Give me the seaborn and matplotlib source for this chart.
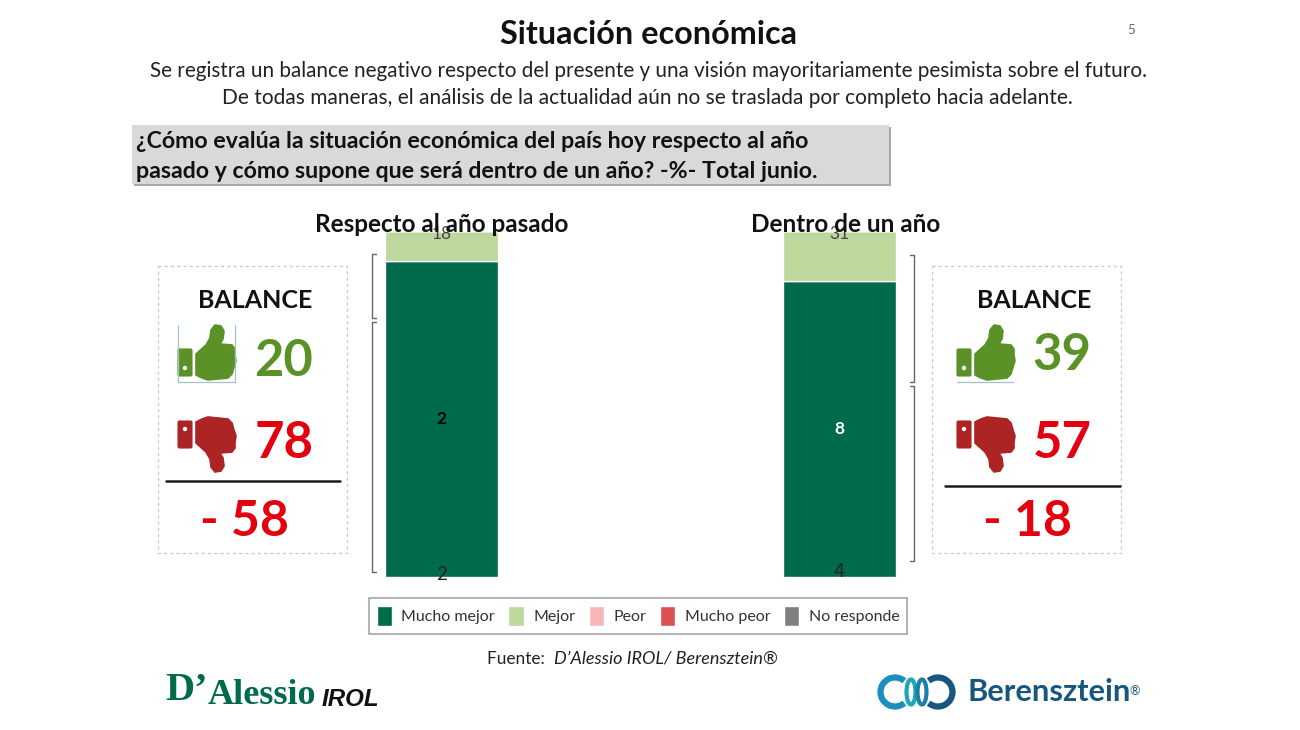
import matplotlib
matplotlib.use("Agg")
import matplotlib.pyplot as plt
import numpy as np
import seaborn as sns
from matplotlib.patches import Arc, Circle, Ellipse, Polygon, Rectangle

# datos
periods = ["Respecto al año pasado", "Dentro de un año"]
series_names = ["Mucho mejor", "Mejor", "Peor", "Mucho peor", "No responde"]
mucho_mejor = [91.3, 85.5]
mejor = [8.7, 14.5]
peor = [0, 0]
mucho_peor = [0, 0]
no_responde = [0, 0]
series_colors = ["#006B4A", "#BDD79D", "#F4B6B6", "#E04F4F", "#7F7F7F"]

# las etiquetas del original no coinciden con el alto visible de las barras
labels_dark = ["2", "8"]
labels_light = ["18", "31"]
labels_base = ["2", "4"]
balance_pos = [20, 39]
balance_neg = [78, 57]
balance_net = ["- 58", "- 18"]

GREEN = "#5B9228"
RED = "#E3000F"
DARK_RED = "#AD2424"

sns.set_theme(style="white")
plt.rcParams["font.family"] = ["Lato", "DejaVu Sans"]

fig = plt.figure(figsize=(13, 7.3), dpi=100, facecolor="white")

# barras: el eje cubre 242-1038 px en x y 231-577 px en y
ax = fig.add_axes([242.5 / 1300, (730 - 577) / 730, 796 / 1300, 346 / 730])
bottom = np.zeros(2)
containers = []
all_series = [mucho_mejor, mejor, peor, mucho_peor, no_responde]
for name, vals, col in zip(series_names, all_series, series_colors):
    sns.barplot(x=periods, y=vals, bottom=bottom, color=col, label=name,
                width=0.284, saturation=1, ax=ax, legend=False)
    containers.append(ax.containers[-1])
    bottom = bottom + np.array(vals)
ax.set_xlim(-0.5, 1.5)
ax.set_ylim(0, 100)
ax.axis("off")

txt = ax.bar_label(containers[0], labels=labels_dark, label_type="center",
                   fontsize=12.5, fontweight="bold")
txt[0].set_color("black")
txt[1].set_color("white")
for i in range(2):
    ax.text(i, 99.2, labels_light[i], ha="center", va="center", fontsize=12.5, color="#444444")
ax.text(0, 0.6, labels_base[0], ha="center", va="center", fontsize=13.5, color="#222222")
ax.text(1, 1.7, labels_base[1], ha="center", va="center", fontsize=13.5, color="#222222")

handles, names = ax.get_legend_handles_labels()
leg = fig.legend(handles, names, ncols=5, loc="center", bbox_to_anchor=(638 / 1300, 1 - 616 / 730),
                 fontsize=11.5, frameon=True, fancybox=False, edgecolor="#A6A6A6", framealpha=1,
                 handlelength=0.95, handleheight=1.5, handletextpad=0.6, columnspacing=0.85,
                 borderpad=0.5, borderaxespad=0)
leg.get_frame().set_linewidth(1.2)
for t in leg.get_texts():
    t.set_color("#333333")

# capa en pixeles para textos y adornos
ov = fig.add_axes([0, 0, 1, 1], zorder=5)
ov.set_xlim(0, 1300)
ov.set_ylim(730, 0)
ov.axis("off")
ov.patch.set_alpha(0)


def thumb(x, y, color, down=False):
    rect = [(1, 24), (13, 24), (14, 25), (14, 50), (13, 51), (1, 51), (0, 50), (0, 25)]
    hand = [(18, 29), (28, 20), (32, 13), (33, 5), (37, 0), (43, 1), (46, 6), (45, 14),
            (42, 19), (54, 20), (57, 24), (57, 30), (58, 36), (56, 42), (54, 49),
            (50, 53), (30, 55), (24, 53), (18, 50)]
    dot_y = 43
    if down:
        rect = [(a, 55 - b) for a, b in rect]
        hand = [(a, 55 - b) for a, b in hand]
        dot_y = 55 - dot_y
    ov.add_patch(Polygon([(x + a, y + b) for a, b in rect], closed=True, fc=color, ec=color, lw=0.8))
    ov.add_patch(Polygon([(x + a, y + b) for a, b in hand], closed=True, fc=color, ec=color, lw=1.2, joinstyle="round"))
    ov.add_patch(Circle((x + 7, y + dot_y), 2.2, fc="white", ec="none"))


def bracket(x, y0, y1, tick):
    ov.plot([x + tick, x, x, x + tick], [y0, y0, y1, y1], color="#666666", lw=1.0)


# titulos
ov.text(649, 35, "Situación económica", ha="center", va="center", fontsize=23.3, fontweight="bold", color="#111111")
ov.text(1131, 30, "5", ha="center", va="center", fontsize=9.5, color="#666666")
ov.text(648, 71, "Se registra un balance negativo respecto del presente y una visión mayoritariamente pesimista sobre el futuro.",
        ha="center", va="center", fontsize=14.9, color="#222222")
ov.text(647, 98, "De todas maneras, el análisis de la actualidad aún no se traslada por completo hacia adelante.",
        ha="center", va="center", fontsize=15, color="#222222")

# recuadro de la pregunta
ov.add_patch(Rectangle((134, 127), 757, 59, fc="#A9A9A9", ec="none"))
ov.add_patch(Rectangle((132, 125), 757, 59, fc="#D9D9D9", ec="none"))
ov.text(136, 141, "¿Cómo evalúa la situación económica del país hoy respecto al año",
        ha="left", va="center", fontsize=16.7, fontweight="bold", color="#111111")
ov.text(136, 171, "pasado y cómo supone que será dentro de un año? -%- Total junio.",
        ha="left", va="center", fontsize=16.7, fontweight="bold", color="#111111")

# encabezados de las barras
ov.text(442, 224, periods[0], ha="center", va="center", fontsize=17.5, fontweight="bold", color="#111111")
ov.text(845.5, 224, periods[1], ha="center", va="center", fontsize=17.5, fontweight="bold", color="#111111")

# llaves
bracket(372, 254, 318, 4)
bracket(372, 322, 572, 4)
bracket(914, 255, 382, -4)
bracket(914, 386, 561, -4)

# cuadros de balance
box_x = [158, 932]
title_x = [255, 1034]
num_x = [284, 1062]
pos_y = [361, 355]
thumb_x = [178, 957]
rule = [(166, 340, 481), (945, 1120, 486)]
net_x = [244, 1027]
for i in range(2):
    ov.add_patch(Rectangle((box_x[i], 266), 189, 287, fc="none", ec="#C8C8C8", lw=0.9, ls=(0, (2.5, 2.5))))
    ov.text(title_x[i], 301, "BALANCE", ha="center", va="center", fontsize=18, fontweight="bold", color="#111111")
    thumb(thumb_x[i], 325, GREEN)
    thumb(thumb_x[i], 417, DARK_RED, down=True)
    ov.text(num_x[i], pos_y[i], str(balance_pos[i]), ha="center", va="center", fontsize=36.5, fontweight="bold", color=GREEN)
    ov.text(num_x[i], 444, str(balance_neg[i]), ha="center", va="center", fontsize=36.5, fontweight="bold", color=RED)
    ov.plot(rule[i][:2], [rule[i][2]] * 2, color="#1A1A1A", lw=1.8)
    ov.text(net_x[i], 521, balance_net[i], ha="center", va="center", fontsize=36, fontweight="bold", color=RED)
# lineas finas del icono
ov.plot([178, 178, 235, 235], [325, 382, 382, 325], color="#9FC3C0", lw=0.9)
ov.plot([957, 1013], [382, 382], color="#9FC3C0", lw=0.9)

# fuente
ov.text(487, 659, "Fuente: ", ha="left", va="center", fontsize=12.4, color="#222222")
ov.text(554, 659, "D’Alessio IROL/ Berensztein®", ha="left", va="center", fontsize=13, style="italic", color="#222222")

# logos
ov.text(165, 691, "D’", ha="left", va="center", family="Liberation Serif", fontsize=29, fontweight="bold", color="#006B4A")
ov.text(208, 696, "Alessio", ha="left", va="center", family="Liberation Serif", fontsize=26, fontweight="bold", color="#006B4A")
ov.text(322, 699, "IROL", ha="left", va="center", family="Liberation Sans", fontsize=17.4, fontweight="bold", style="italic", color="#111111")

ov.add_patch(Arc((895, 692), 29, 29, theta1=50, theta2=310, color="#1B8FBF", lw=4.5))
ov.add_patch(Arc((938, 692), 29, 29, theta1=-130, theta2=130, color="#17567F", lw=4.5))
ov.add_patch(Ellipse((911, 692), 9, 25, fc="none", ec="#1FA6B8", lw=3))
ov.add_patch(Ellipse((922, 692), 9, 25, fc="none", ec="#1B7FA8", lw=3))
ov.text(968, 692, "Berensztein", ha="left", va="center", fontsize=22.2, color="#17567F", fontweight="bold")
ov.text(1135, 691, "®", ha="center", va="center", fontsize=9, color="#17567F")

fig.savefig("out.png", dpi=100, facecolor="white")
